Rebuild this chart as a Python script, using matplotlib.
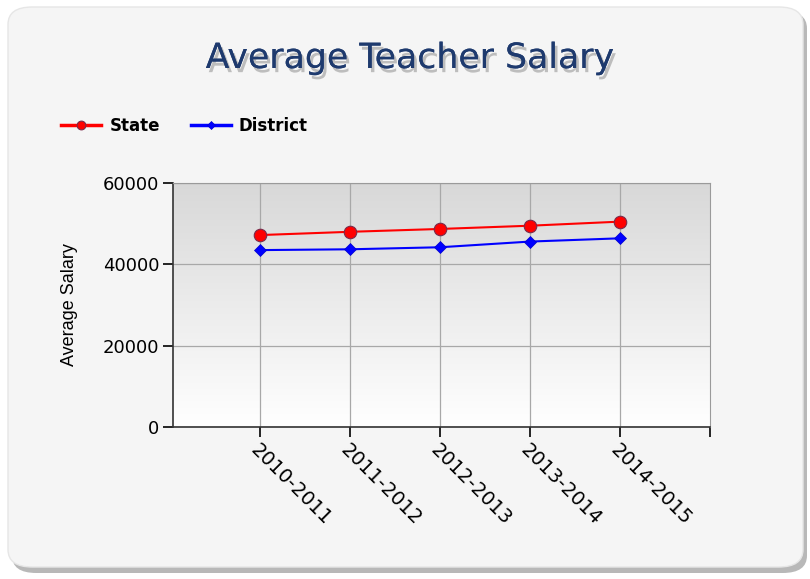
import numpy as np
import matplotlib.pyplot as plt
from matplotlib.colors import LinearSegmentedColormap
from matplotlib.patches import FancyBboxPatch
from matplotlib import patheffects

years = ["2010-2011", "2011-2012", "2012-2013", "2013-2014", "2014-2015"]
state = [47200, 48000, 48700, 49500, 50500]
district = [43500, 43700, 44200, 45600, 46400]
y_ticks = [0, 20000, 40000, 60000]

W, H = 810, 579
fig = plt.figure(figsize=(W / 100, H / 100), dpi=100)
fig.patch.set_facecolor("white")

# rounded panel with soft shadow
shadow = FancyBboxPatch((12 / W, 6 / H), 795 / W, 562 / H,
                        boxstyle="round,pad=0,rounding_size=0.03",
                        transform=fig.transFigure, facecolor="#b8b8b8",
                        edgecolor="none", zorder=-2)
panel = FancyBboxPatch((8 / W, 12 / H), 795 / W, 560 / H,
                       boxstyle="round,pad=0,rounding_size=0.03",
                       transform=fig.transFigure, facecolor="#f5f5f5",
                       edgecolor="#e6e6e6", linewidth=1, zorder=-1)
fig.patches.extend([shadow, panel])

ax = fig.add_axes([173 / W, 1 - 427 / H, (710 - 173) / W, (427 - 183) / H])
ax.set_zorder(2)
ax.set_facecolor("none")

# vertical gradient background in plot area
grad = np.linspace(0, 1, 256).reshape(-1, 1)
ax.imshow(grad, extent=[0, 1, 0, 1], transform=ax.transAxes, aspect="auto",
          cmap=LinearSegmentedColormap.from_list("bg", ["#ffffff", "#d8d8d8"]),
          origin="lower", zorder=0)

x = np.arange(len(years))
ax.plot(x, state, color="#ff0000", lw=1.5, marker="o", ms=9,
        mfc="#ff0000", mec="#7a2a4a", mew=0.8, zorder=3, label="State")
ax.plot(x, district, color="#0000ff", lw=1.5, marker="D", ms=6,
        mfc="#0000ff", mec="#0000cc", mew=0.5, zorder=3, label="District")

ax.set_xlim(-0.97, 5)
ax.set_ylim(0, 60000)
ax.set_xticks(x)
ax.set_xticks([5], minor=True)
ax.set_xticklabels(years, rotation=-45, ha="left", va="top",
                   rotation_mode="anchor", fontsize=14)
ax.set_yticks(y_ticks)
ax.set_yticklabels([str(v) for v in y_ticks], fontsize=13)
ax.tick_params(axis="both", which="both", direction="out", length=7,
               width=1.2, color="black")
ax.tick_params(axis="x", pad=3)
ax.tick_params(axis="y", pad=3)
ax.grid(True, color="#a8a8a8", lw=0.9, zorder=1)
ax.set_axisbelow(True)
for s in ("left", "bottom"):
    ax.spines[s].set_color("#333333")
    ax.spines[s].set_linewidth(1.2)
for s in ("top", "right"):
    ax.spines[s].set_color("#9a9a9a")
ax.set_ylabel("Average Salary", fontsize=13, labelpad=18,
              family="Liberation Sans")

title = fig.text(410 / W, 1 - 58 / H, "Average Teacher Salary",
                 ha="center", va="center", fontsize=25, color="#1e3a6e",
                 family="DejaVu Sans", weight="medium")
title.set_path_effects([patheffects.withSimplePatchShadow(
    offset=(2, -3), shadow_rgbFace="#999999", alpha=0.6), patheffects.Normal()])

leg = fig.legend(loc="center left", bbox_to_anchor=(46 / W, 1 - 126 / H),
                 ncol=2, frameon=False, handlelength=2.4,
                 columnspacing=1.85, handletextpad=0.5, markerscale=0.7,
                 prop={"weight": "bold", "size": 12})
for h in leg.get_lines():
    h.set_linewidth(2.5)

fig.savefig("out.png", dpi=100)
